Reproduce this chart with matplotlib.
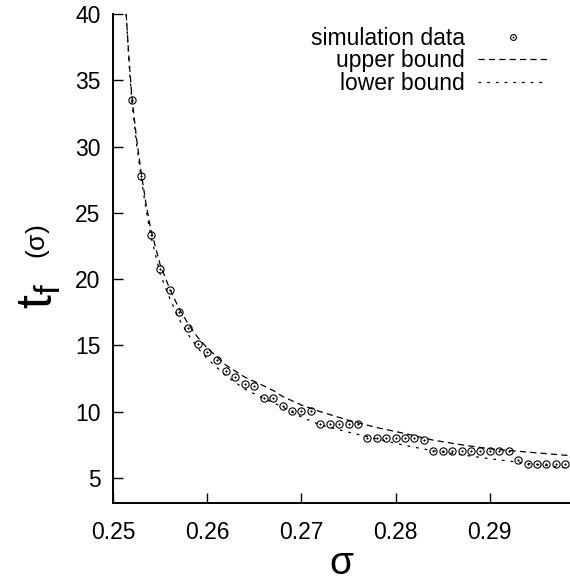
import matplotlib
matplotlib.use("Agg")
import matplotlib.pyplot as plt
from matplotlib.lines import Line2D

# ---- data ----
sim_sigma = [0.252, 0.253, 0.254, 0.255, 0.256, 0.257, 0.258, 0.259, 0.260, 0.261,
             0.262, 0.263, 0.264, 0.265, 0.266, 0.267, 0.268, 0.269, 0.270, 0.271,
             0.272, 0.273, 0.274, 0.275, 0.276, 0.277, 0.278, 0.279, 0.280, 0.281,
             0.282, 0.283, 0.284, 0.285, 0.286, 0.287, 0.288, 0.289, 0.290, 0.291,
             0.292, 0.293, 0.294, 0.295, 0.296, 0.297, 0.298]
sim_t = [33.5, 27.8, 23.3, 20.8, 19.2, 17.5, 16.3, 15.1, 14.5, 13.9,
         13.1, 12.6, 12.05, 11.95, 11.05, 11.05, 10.45, 10.05, 10.05, 10.05,
         9.05, 9.05, 9.05, 9.05, 9.05, 8.05, 8.05, 8.05, 8.05, 8.05,
         8.05, 7.9, 7.05, 7.05, 7.05, 7.05, 7.05, 7.05, 7.05, 7.05,
         7.05, 6.35, 6.05, 6.05, 6.05, 6.05, 6.05]

upper_sigma = [0.2514, 0.2517, 0.252, 0.2525, 0.253, 0.2535, 0.254, 0.255, 0.256, 0.257,
               0.258, 0.259, 0.260, 0.262, 0.264, 0.266, 0.267, 0.268, 0.270, 0.272,
               0.275, 0.278, 0.281, 0.284, 0.287, 0.290, 0.294, 0.2986]
upper_t = [40.0, 36.6, 33.8, 30.6, 28.0, 25.7, 23.8, 21.1, 19.3, 17.8,
           16.6, 15.6, 14.8, 13.5, 12.6, 11.95, 11.6, 11.15, 10.5, 10.0,
           9.35, 8.8, 8.35, 7.85, 7.5, 7.2, 6.95, 6.68]

lower_sigma = [0.2514, 0.2517, 0.252, 0.2525, 0.253, 0.2535, 0.254, 0.255, 0.256, 0.257,
               0.258, 0.259, 0.260, 0.262, 0.264, 0.266, 0.268, 0.270, 0.272, 0.275,
               0.278, 0.281, 0.284, 0.287, 0.290, 0.294, 0.2986]
lower_t = [40.0, 36.3, 33.4, 30.2, 27.6, 25.3, 23.3, 20.4, 18.6, 17.0,
           15.8, 14.8, 14.0, 12.7, 11.7, 11.0, 10.35, 9.6, 9.0, 8.45,
           7.95, 7.45, 7.05, 6.75, 6.45, 6.1, 5.72]

x_ticks = [0.25, 0.26, 0.27, 0.28, 0.29]
x_tick_labels = ["0.25", "0.26", "0.27", "0.28", "0.29"]
y_ticks = [5, 10, 15, 20, 25, 30, 35, 40]
y_tick_labels = ["5", "10", "15", "20", "25", "30", "35", "40"]
legend_labels = ["simulation data", "upper bound", "lower bound"]

plt.rcParams['font.family'] = ['Liberation Sans', 'DejaVu Sans']
plt.rcParams['mathtext.fontset'] = 'custom'
plt.rcParams['mathtext.rm'] = 'Liberation Sans'
plt.rcParams['mathtext.it'] = 'Liberation Sans'

UP_STYLE = (0, (5.0, 3.3))
LO_STYLE = (0, (2.2, 4.75))

fig = plt.figure(figsize=(5.70, 5.83), dpi=100)
ax = fig.add_axes([113/570, 1 - 503/583, 1 - 113/570, (503 - 14)/583])

circ_kw = dict(linestyle='none', marker='o', markersize=5.2, markerfacecolor='none',
               markeredgecolor='black', markeredgewidth=0.8)
dot_kw = dict(linestyle='none', marker='o', markersize=1.2, markerfacecolor='black',
              markeredgecolor='black', markeredgewidth=0.3)

ax.plot(sim_sigma, sim_t, **circ_kw)
ax.plot(sim_sigma, sim_t, **dot_kw)
ax.plot(upper_sigma, upper_t, color='black', linewidth=0.9, linestyle=UP_STYLE)
ax.plot(lower_sigma, lower_t, color='black', linewidth=0.9, linestyle=LO_STYLE)

ax.set_xlim(0.25, 0.29851)
ax.set_ylim(3.11, 40)
ax.set_xticks(x_ticks)
ax.set_xticklabels(x_tick_labels)
ax.set_yticks(y_ticks)
ax.set_yticklabels(y_tick_labels)

for s in ['top', 'right']:
    ax.spines[s].set_visible(False)
for s in ['left', 'bottom']:
    ax.spines[s].set_linewidth(1.4)

ax.tick_params(direction='in', length=7.5, width=1.0, labelsize=16.5,
               top=False, right=False)
ax.tick_params(axis='x', pad=13)
ax.tick_params(axis='y', pad=9)

xl = ax.set_xlabel(r'$\sigma$', fontsize=28, family='DejaVu Serif')
xl.set_va('center')
ax.xaxis.set_label_coords(0.501, -0.124)

fig.text(40/570, 1 - 296/583, r'$\mathregular{t_f}$', fontsize=36, rotation=90,
         ha='center', va='center')
fig.text(38/570, 1 - 242/583, r'($\sigma$)', fontsize=19, rotation=90,
         ha='center', va='center')

# legend with sample to the right of the text
h_sim = (Line2D([], [], **dict(circ_kw, markersize=4.2)),
         Line2D([], [], **dict(dot_kw, markersize=1.0)))
h_up = Line2D([], [], color='black', linewidth=0.9, linestyle=UP_STYLE)
h_lo = Line2D([], [], color='black', linewidth=0.9, linestyle=LO_STYLE)
leg = ax.legend([h_sim, h_up, h_lo], legend_labels,
                loc='upper right', bbox_to_anchor=(0.9497, 0.974), frameon=False,
                markerfirst=False, fontsize=16.5, handlelength=3.0,
                handletextpad=0.6, labelspacing=-0.02, borderpad=0, borderaxespad=0)

fig.savefig('out.png', dpi=100)
